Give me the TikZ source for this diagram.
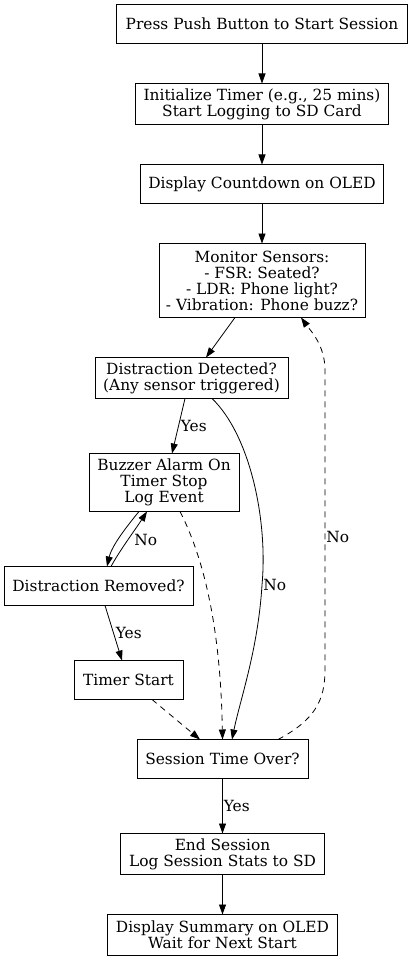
\documentclass[tikz,border=0pt]{standalone}
\usepackage{fontspec}
\setmainfont{DejaVu Serif}
\usepackage{tikz}
\usetikzlibrary{arrows.meta,positioning}

\tikzset{
  stepbox/.style={draw, rectangle, align=center, inner xsep=4pt, inner ysep=2pt, outer sep=0pt},
  lbl/.style={right, inner sep=1pt},
  dashedge/.style={->, dash pattern=on 6pt off 5pt},
}

\begin{document}
\begin{tikzpicture}[>={Triangle[length=10pt, width=7pt]}, x=1pt, y=-1pt, line width=0.8pt, font=\fontsize{15.4}{16}\selectfont]
        \useasboundingbox (0,0) rectangle (412,960);
        \node[stepbox, minimum width=291pt, minimum height=39pt] (start) at (262,24) {Press Push Button to Start Session};
        \node[stepbox, below=40pt of start, minimum width=253pt, minimum height=41pt] (init) {Initialize Timer (e.g., 25 mins)\\Start Logging to SD Card};
        \node[stepbox, below=40pt of init, minimum width=243pt, minimum height=39pt] (disp) {Display Countdown on OLED};
        \node[stepbox, below=40pt of disp, minimum width=206pt, minimum height=74pt] (monitor) {Monitor Sensors:\\- FSR: Seated?\\- LDR: Phone light?\\- Vibration: Phone buzz?};
        \node[stepbox, below=40pt of monitor, xshift=-70.5pt, minimum width=193pt, minimum height=41pt] (detect) {Distraction Detected?\\(Any sensor triggered)};
        \node[stepbox, below=55pt of detect, xshift=-27.5pt, minimum width=150pt, minimum height=58pt] (buzzer) {Buzzer Alarm On\\Timer Stop\\Log Event};
        \node[stepbox, below=55pt of buzzer, xshift=-65.5pt, minimum width=189pt, minimum height=39pt] (removed) {Distraction Removed?};
        \node[stepbox, below=55pt of removed, xshift=30pt, minimum width=109pt, minimum height=39pt] (timer) {Timer Start};
        \node[stepbox, below=40pt of timer, xshift=94pt, minimum width=171pt, minimum height=39pt] (over) {Session Time Over?};
        \node[stepbox, below=55pt of over, minimum width=204pt, minimum height=41pt] (end) {End Session\\Log Session Stats to SD};
        \node[stepbox, below=40pt of end, minimum width=230pt, minimum height=41pt] (summary) {Display Summary on OLED\\Wait for Next Start};

        \draw[->] (start) -- (init);
        \draw[->] (init) -- (disp);
        \draw[->] (disp) -- (monitor);
        \draw[->] ([xshift=-27pt]monitor.south) -- ([xshift=14.5pt]detect.north);
        \draw[->] ([xshift=-6.5pt]detect.south) -- node[lbl, xshift=1pt] (yes1) {Yes} ([xshift=8pt]buzzer.north);
        \draw[->] ([xshift=20.5pt]detect.south) .. controls (250,435) and (268,520) .. (262,585) node[lbl] (no1) {No}
              .. controls (258,650) and (240,700) .. ([xshift=9.5pt]over.north);
        \draw[->] ([xshift=-25pt]buzzer.south) .. controls (128,525) and (112,545) .. ([xshift=8.5pt]removed.north);
        \draw[->] ([xshift=12.5pt]removed.north) .. controls (120,550) and (135,530) .. node[lbl, xshift=5pt] (no2) {No} ([xshift=-17pt]buzzer.south);
        \draw[dashedge] ([xshift=16pt]buzzer.south) .. controls (210,570) and (221,650) .. (over.north);
        \draw[->] ([xshift=6.5pt]removed.south) -- node[lbl, xshift=1pt] (yes2) {Yes} ([xshift=-6.5pt]timer.north);
        \draw[dashedge] ([xshift=23.5pt]timer.south) -- ([xshift=-22.5pt]over.north);
        \draw[dashedge] ([xshift=55.5pt]over.north) .. controls (315,720) and (325,700) .. (325,670)
              -- node[lbl, pos=0.443] (no3) {No} (325,370) .. controls (325,345) and (310,330) .. ([xshift=39pt]monitor.south);
        \draw[->] (over) -- node[lbl] (yes3) {Yes} (end);
        \draw[->] (end) -- (summary);
      \end{tikzpicture}
\end{document}
